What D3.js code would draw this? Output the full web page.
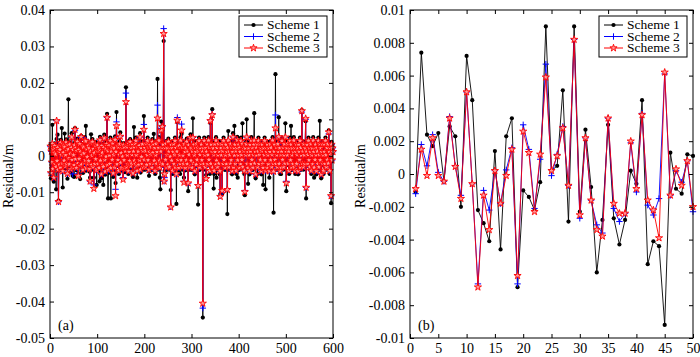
<!DOCTYPE html>
<html>
<head>
<meta charset="utf-8">
<script src="https://cdn.jsdelivr.net/npm/d3@7"></script>
<style>
  body { margin: 0; background: #fff; }
</style>
</head>
<body>
<div id="chart"></div>
<script>
// Panel (a): residuals of epochs 1..600, in millimetres
const resA1 = [
  3.1,-6.2,1.5,-2.4,8.5,-4.1,2.3,-7.1,1.0,3.4,-2.9,0.6,-9.2,4.6,-1.9,5.8,-4.2,-12.3,1.4,-3.0,
  2.0,-3.9,4.4,0.5,7.6,-2.6,-8.7,1.2,3.4,-1.6,6.1,-3.5,0.4,4.5,-2.7,1.7,-6.3,3.5,15.5,-1.0,
  -2.8,3.7,0.8,-4.5,2.7,6.2,-1.4,-5.5,2.1,0.3,-5.8,3.5,7.6,-1.2,2.6,-4.0,1.7,4.7,-2.6,-5.0,
  2.0,-1.0,3.9,-6.4,1.4,5.5,-2.9,0.4,3.2,-4.7,2.8,0.9,-2.3,5.1,-1.5,8.2,-4.1,2.2,-0.4,-2.7,
  3.4,-1.7,2.6,-4.4,-6.0,1.5,5.9,-3.0,0.2,4.6,-3.8,2.3,-6.0,1.0,-2.7,3.8,-1.1,2.9,-8.0,1.6,
  3.5,-2.7,1.7,-4.0,-7.0,5.2,-1.6,0.3,-6.2,3.3,1.1,-2.9,-8.0,2.7,5.8,-1.4,-5.2,2.1,-0.3,3.9,
  11.5,-3.2,-11.7,-4.7,3.4,0.2,-2.7,5.0,-11.7,1.5,2.8,-1.4,4.1,-5.8,0.4,2.6,-3.9,5.3,-7.5,1.4,
  12.0,-2.8,3.3,-1.5,2.9,-5.0,0.4,3.9,6.4,-2.3,1.0,-4.1,2.7,-0.3,-4.0,3.5,-1.5,2.8,-4.5,1.5,
  18.8,-3.8,2.9,0.3,-2.8,-5.0,4.0,1.4,-1.7,4.6,-3.4,2.7,-2.6,0.4,3.8,-5.8,1.5,7.9,-1.6,4.0,
  -2.7,5.0,0.3,-3.5,-6.0,2.8,1.5,-2.9,3.4,-1.5,6.2,-4.6,2.7,-0.4,-2.8,3.9,1.6,-3.8,10.9,-1.4,
  2.7,-3.8,1.6,4.0,-2.9,0.3,5.0,-1.5,2.8,-5.5,1.4,3.5,-2.7,0.4,2.9,-3.9,4.6,1.1,-2.6,6.0,
  -1.6,2.7,-5.0,0.3,4.0,-2.7,1.4,21.1,-3.8,2.7,5.1,-1.6,-6.0,-9.2,1.5,9.4,2.8,7.0,-2.8,3.8,
  31.5,-5.0,-4.2,2.7,-1.4,4.0,-3.9,0.3,2.6,-2.9,4.7,1.5,-3.8,2.8,-0.3,-9.4,3.8,-1.6,2.7,-5.0,
  1.4,3.9,-2.8,0.4,5.0,-3.9,2.7,-13.2,1.5,9.3,-1.4,2.9,-4.0,3.4,0.3,-5.0,5.1,-1.5,6.0,-3.8,
  2.8,0.2,-2.7,-6.0,3.9,1.4,-4.0,2.6,-1.5,4.7,-2.8,1.5,-9.7,3.5,0.4,-3.8,2.7,5.9,-1.6,2.6,
  -3.9,1.5,10.3,-2.6,3.8,0.3,-5.1,2.8,1.4,-2.9,4.0,-1.4,2.7,-13.4,1.6,5.0,-3.9,0.4,2.6,-2.7,
  3.8,-1.5,1.6,-44.4,2.7,-2.8,5.0,0.3,-3.8,2.7,-5.3,1.4,3.9,-2.7,0.3,5.1,-1.4,2.8,-5.0,9.0,
  -2.7,3.8,1.5,12.8,-3.9,2.6,-9.0,-5.0,3.9,1.4,-2.8,5.1,-6.0,2.7,-3.8,0.3,4.0,-2.6,1.5,-5.1,
  -10.5,2.6,0.3,3.9,-10.4,1.6,-2.7,5.0,-1.4,2.8,-3.9,0.3,3.8,-2.8,1.4,-16.0,2.7,6.8,-3.8,1.5,
  0.3,-2.6,3.9,-1.5,2.8,-5.1,1.4,6.2,-3.9,2.7,8.2,3.8,-2.7,1.6,-5.0,2.7,5.2,-6.0,0.3,3.8,
  -3.9,2.7,1.4,-2.8,5.0,0.3,-1.4,8.9,-3.8,2.7,1.6,-5.0,-10.8,2.6,0.3,3.9,10.0,-2.7,1.4,-7.7,
  2.6,0.3,-5.1,3.8,1.5,-2.8,5.1,-1.4,2.7,-3.9,0.4,3.8,11.7,-2.6,1.5,-6.2,2.8,0.2,3.9,-5.0,
  1.5,5.0,-2.7,0.4,3.9,-1.4,2.6,-5.1,1.6,3.8,-2.7,-8.0,2.6,0.3,5.0,-1.5,-9.2,2.7,1.4,-3.9,
  3.8,0.3,-2.8,2.6,-6.0,1.4,3.9,-1.5,2.7,-3.8,0.4,5.1,-2.6,-15.6,1.5,3.8,-1.4,22.4,-2.7,2.8,
  0.3,-3.8,3.9,1.4,10.6,-2.7,2.6,-5.0,0.4,-5.0,1.5,5.0,-1.4,2.8,-3.8,0.3,3.9,-2.6,8.9,1.5,
  -9.7,2.6,0.3,4.0,-2.6,1.5,-5.0,2.7,5.0,-1.5,8.2,-3.9,0.3,2.6,-2.8,1.4,5.1,-3.8,2.7,-5.0,
  1.4,3.9,-2.7,0.4,2.6,-5.1,3.8,1.5,-1.4,5.0,-3.9,2.7,0.2,12.5,-2.6,1.5,-3.8,3.9,0.3,-2.7,
  2.6,9.5,-11.7,1.5,3.8,-2.7,0.4,5.0,-1.5,2.7,-3.8,1.4,3.9,-5.0,0.3,2.6,-2.8,5.1,1.4,-6.0,
  2.7,-1.4,3.8,0.3,-5.1,2.6,1.5,-2.7,5.0,-3.8,0.4,9.6,-1.5,2.6,-6.2,1.4,3.9,-2.6,0.3,-5.0,
  3.9,1.4,-2.7,5.0,0.3,-3.8,2.7,-1.4,3.9,-2.6,7.0,1.5,-5.0,2.7,0.4,-13.0,3.8,-1.5,2.6,1.4
];
const resA2 = [
  2.5,-4.7,1.2,-1.8,3.3,-3.6,1.9,-6,0.8,2.7,-2.3,0.4,-3,9.6,-1.4,2.2,-3.8,-12.6,1.1,-2.4,
  1.7,-3.2,3.6,0.3,3,-2.1,-4.2,0.9,2.8,-1.3,2.4,-2.9,0.2,3.7,-2.2,1.3,-4.9,2.9,1.8,-0.7,
  -2.3,3.1,0.6,-3.7,2.2,5.1,-1.1,-5,1.7,0.2,-2.6,2.9,7,-0.9,2.1,-3.3,1.4,3.9,-2.1,-5,
  1.6,-0.8,3.2,-2.7,1.1,5,-2.4,0.3,2.6,-3.9,2.3,0.7,-1.9,4.2,-1.2,4.5,-3.4,1.8,-0.3,-2.2,
  2.8,-1.4,2.1,-3.6,-7,1.2,3.4,-2.5,0.1,3.8,-3.1,1.9,-8,0.8,-2.2,3.1,-0.9,2.4,-4,1.3,
  2.9,-2.2,1.4,-3.3,2.1,4.3,-1.3,0.2,-5.1,2.7,0.9,-2.4,-3,2.2,4.8,-1.1,-4.3,1.7,-0.2,3.2,
  10.5,-2.6,1.3,-3.9,2.8,0.1,-2.2,4.1,-3.3,1.2,2.3,-1.1,3.4,-4.8,0.3,2.1,-3.2,4.4,-9.2,1.1,
  9.3,-2.3,2.7,-1.2,2.4,-4.1,0.3,3.2,5.3,-1.9,0.8,-3.4,2.2,-0.2,-6,2.9,-1.2,2.3,-3.7,1.2,
  17.2,-3.1,2.4,0.2,-2.3,-4.2,3.3,1.1,-1.4,3.8,-2.8,2.2,-2.1,0.3,3.1,-4.8,1.2,2.4,-1.3,3.3,
  -2.2,4.1,0.2,-2.9,-4.1,2.3,1.2,-2.4,2.8,-1.2,5.1,-3.8,2.2,-0.3,-2.3,3.2,1.3,-3.1,8.6,-1.1,
  2.2,-3.1,1.3,3.3,-2.4,0.2,4.1,-1.2,2.3,-3.9,1.1,2.9,-2.2,0.3,2.4,-3.2,3.8,0.9,-2.1,3.1,
  -1.3,2.2,-4.1,0.2,3.3,-2.2,1.1,13.9,-3.1,2.2,4.2,-1.3,-3.2,-2.1,1.2,7.5,2.3,8,-2.3,3.1,
  34.9,-7,-6,2.2,-1.1,3.3,-3.2,0.2,2.1,-2.4,3.9,1.2,-3.1,2.3,-0.2,-14,3.1,-1.3,2.2,-4.1,
  1.1,3.2,-2.3,0.3,4.1,-3.2,2.2,-5,1.2,10.5,-1.1,2.4,-3.3,2.8,0.2,-2.2,4.2,-1.2,8.7,-3.1,
  2.3,0.1,-2.2,-7,3.2,1.1,-3.3,2.1,-1.2,3.9,-2.3,1.2,-7.5,2.9,0.3,-3.1,2.2,4.9,-1.3,2.1,
  -3.2,1.2,5,-2.1,3.1,0.2,-4.2,2.3,1.1,-2.4,3.3,-1.1,2.2,-8,1.3,4.1,-3.2,0.3,2.1,-2.2,
  3.1,-1.2,1.3,-41.8,2.2,-2.3,4.1,0.2,-3.1,2.2,-6,1.1,3.2,-2.2,0.2,4.2,-1.1,2.3,-4.1,9.8,
  -2.2,3.1,1.2,11.5,-3.2,2.1,0.3,-4.1,3.2,1.1,-2.3,4.2,-1.3,2.2,-3.1,0.2,3.3,-2.1,1.2,-4.2,
  -11,2.1,0.2,3.2,-10,1.3,-2.2,4.1,-1.1,2.3,-3.2,0.2,3.1,-2.3,1.1,-9,2.2,4.2,-3.1,1.2,
  0.2,-2.1,3.2,-1.2,2.3,-4.2,1.1,5.1,-3.2,2.2,0.1,3.1,-2.2,1.3,-4.1,2.2,4.3,-1.2,0.2,3.1,
  -3.2,2.2,1.1,-2.3,4.1,0.2,-1.1,3.3,-3.1,2.2,1.3,-4.1,-9.5,2.1,0.2,3.2,5.1,-2.2,1.1,-3.3,
  2.1,0.2,-4.2,3.1,1.2,-2.3,4.2,-1.1,2.2,-3.2,0.3,3.1,4.2,-2.1,1.2,-5.1,2.3,0.1,3.2,-3.1,
  1.2,4.1,-2.2,0.3,3.2,-1.1,2.1,-4.2,1.3,3.1,-2.2,-3.3,2.1,0.2,4.1,-1.2,-4.1,2.2,1.1,-3.2,
  3.1,0.2,-2.3,2.1,-4.2,1.1,3.2,-1.2,2.2,-3.1,0.3,4.2,-2.1,-4.3,1.2,3.1,-1.1,11.2,-2.2,2.3,
  0.2,-3.1,3.2,1.1,5.2,-2.2,2.1,-4.1,0.3,-3.2,1.2,4.1,-1.1,2.3,-3.1,0.2,3.2,-2.1,5.1,1.2,
  -7,2.1,0.2,3.3,-2.1,1.2,-4.1,2.2,4.1,-1.2,3.1,-3.2,0.2,2.1,-2.3,1.1,4.2,-3.1,2.2,-4.1,
  1.1,3.2,-2.2,0.3,2.1,-4.2,3.1,1.2,-1.1,4.1,-3.2,2.2,0.1,12,-2.1,1.2,-3.1,3.2,0.2,-2.2,
  2.1,10,-8.7,1.2,3.1,-2.2,0.3,4.1,-1.2,2.2,-3.1,1.1,3.2,-4.1,0.2,2.1,-2.3,4.2,1.1,-3.2,
  2.2,-1.1,3.1,0.2,-4.2,2.1,1.2,-2.2,4.1,-3.1,0.3,3.2,-1.2,2.1,-5.1,1.1,3.2,-2.1,0.2,-4.1,
  3.2,1.1,-2.2,4.1,0.2,-3.1,2.2,-1.1,3.2,-2.1,6,1.2,-4.1,2.2,0.3,-11,3.1,-1.2,2.1,1.1
];
const resA3 = [
  2.6,-4.7,1.2,-1.8,3.3,-3.6,1.9,-6,0.8,2.7,-2.3,0.4,-3,9.6,-1.4,2.2,-3.8,-12.6,1.1,-2.4,
  1.7,-3.2,3.6,0.3,3,-2.1,-4.2,0.9,2.8,-1.3,2.4,-2.9,0.2,3.7,-2.2,1.3,-4.9,2.9,1.8,-0.7,
  -2.3,3.1,0.6,-3.7,2.2,5.1,-1.1,-3.2,1.7,0.2,-2.6,2.9,7.2,-0.9,2.1,-3.3,1.4,3.9,-2.1,-5.5,
  1.6,-0.8,3.2,-2.7,1.1,5.2,-2.4,0.3,2.6,-3.9,2.3,0.7,-1.9,4.2,-1.2,4,-3.4,1.8,-0.3,-2.2,
  2.8,-1.4,2.1,-3.6,-7,1.2,3.4,-2.5,0.1,3.8,-3.1,1.9,-9,0.8,-2.2,3.1,-0.9,2.4,-4,1.3,
  2.9,-2.2,1.4,-3.3,2.1,4.3,-1.3,0.2,-5.1,2.7,0.9,-2.4,-3,2.2,4.8,-1.1,-4.3,1.7,-0.2,3.2,
  10.5,-2.6,1.3,-3.9,2.8,0.1,-2.2,4.1,-3.3,1.2,2.3,-1.1,3.4,-4.8,0.3,2.1,-3.2,4.4,-11,1.1,
  8.2,-2.3,2.7,-1.2,2.4,-4.1,0.3,3.2,5.3,-1.9,0.8,-3.4,2.2,-0.2,-6.5,2.9,-1.2,2.3,-3.7,1.2,
  14.8,-3.1,2.4,0.2,-2.3,-4.2,3.3,1.1,-1.4,3.8,-2.8,2.2,-2.1,0.3,3.1,-4.8,1.2,2.4,-1.3,3.3,
  -2.2,4.1,0.2,-2.9,-4.1,2.3,1.2,-2.4,2.8,-1.2,5.1,-3.8,2.2,-0.3,-2.3,3.2,1.3,-3.1,7.2,-1.1,
  2.2,-3.1,1.3,3.3,-2.4,0.2,4.1,-1.2,2.3,-3.9,1.1,2.9,-2.2,0.3,2.4,-3.2,3.8,0.9,-2.1,3.1,
  -1.3,2.2,-4.1,0.2,3.3,-2.2,1.1,10.3,-3.1,2.2,4.2,-1.3,-3.2,-2.1,1.2,7,2.3,8,-2.3,3.1,
  33.5,-7,-5,2.2,-1.1,3.3,-3.2,0.2,2.1,-2.4,3.9,1.2,-3.1,2.3,-0.2,-14.1,3.1,-1.3,2.2,-4.1,
  1.1,3.2,-2.3,0.3,4.1,-3.2,2.2,-5,1.2,9.7,-1.1,2.4,-3.3,2.8,0.2,-2.2,4.2,-1.2,7,-3.1,
  2.3,0.1,-2.2,-7.3,3.2,1.1,-3.3,2.1,-1.2,3.9,-2.3,1.2,-7.5,2.9,0.3,-3.1,2.2,4.9,-1.3,2.1,
  -3.2,1.2,5,-2.1,3.1,0.2,-4.2,2.3,1.1,-2.4,3.3,-1.1,2.2,-8.2,1.3,4.1,-3.2,0.3,2.1,-2.2,
  3.1,-1.2,1.3,-40.5,2.2,-2.3,4.1,0.2,-3.1,2.2,-6.3,1.1,3.2,-2.2,0.2,4.2,-1.1,2.3,-4.1,9.6,
  -2.2,3.1,1.2,11.2,-3.2,2.1,0.3,-4.1,3.2,1.1,-2.3,4.2,-1.3,2.2,-3.1,0.2,3.3,-2.1,1.2,-4.2,
  -11.2,2.1,0.2,3.2,-9.6,1.3,-2.2,4.1,-1.1,2.3,-3.2,0.2,3.1,-2.3,1.1,-9.3,2.2,4.2,-3.1,1.2,
  0.2,-2.1,3.2,-1.2,2.3,-4.2,1.1,5.1,-3.2,2.2,0.1,3.1,-2.2,1.3,-4.1,2.2,4.3,-1.2,0.2,3.1,
  -3.2,2.2,1.1,-2.3,4.1,0.2,-1.1,3.3,-3.1,2.2,1.3,-4.1,-9.9,2.1,0.2,3.2,5.1,-2.2,1.1,-3.3,
  2.1,0.2,-4.2,3.1,1.2,-2.3,4.2,-1.1,2.2,-3.2,0.3,3.1,4.2,-2.1,1.2,-5.1,2.3,0.1,3.2,-3.1,
  1.2,4.1,-2.2,0.3,3.2,-1.1,2.1,-4.2,1.3,3.1,-2.2,-3.3,2.1,0.2,4.1,-1.2,-4.1,2.2,1.1,-3.2,
  3.1,0.2,-2.3,2.1,-4.2,1.1,3.2,-1.2,2.2,-3.1,0.3,4.2,-2.1,-4.3,1.2,3.1,-1.1,7.6,-2.2,2.3,
  0.2,-3.1,3.2,1.1,5.2,-2.2,2.1,-4.1,0.3,-3.2,1.2,4.1,-1.1,2.3,-3.1,0.2,3.2,-2.1,5.1,1.2,
  -7.5,2.1,0.2,3.3,-2.1,1.2,-4.1,2.2,4.1,-1.2,3.1,-3.2,0.2,2.1,-2.3,1.1,4.2,-3.1,2.2,-4.1,
  1.1,3.2,-2.2,0.3,2.1,-4.2,3.1,1.2,-1.1,4.1,-3.2,2.2,0.1,12.3,-2.1,1.2,-3.1,3.2,0.2,-2.2,
  2.1,10.2,-8.7,1.2,3.1,-2.2,0.3,4.1,-1.2,2.2,-3.1,1.1,3.2,-4.1,0.2,2.1,-2.3,4.2,1.1,-3.2,
  2.2,-1.1,3.1,0.2,-4.2,2.1,1.2,-2.2,4.1,-3.1,0.3,3.2,-1.2,2.1,-5.1,1.1,3.2,-2.1,0.2,-4.1,
  3.2,1.1,-2.2,4.1,0.2,-3.1,2.2,-1.1,3.2,-2.1,6.5,1.2,-4.1,2.2,0.3,-11,3.1,-1.2,2.1,1.1
];

// Panel (b): residuals of epochs 1..50, in metres
const resB1 = [-0.0011,0.0074,0.0024,0.0017,0.0025,-0.00045,0.0029,0.0023,-0.002,0.0072,
  0.0045,-0.0022,-0.003,-0.0041,0.0014,-0.0046,0.0023,0.0034,-0.0069,-0.001,
  -0.0014,-0.0022,-0.0005,0.009,0.0002,0.0005,0.0051,-0.0029,0.009,-0.0023,
  0.0027,-0.0008,-0.006,-0.0028,0.003,-0.0027,-0.0043,-0.0028,0.0002,-0.0006,
  0.0045,-0.0055,-0.0041,-0.0044,-0.0092,0.0013,-0.0009,-0.0012,0.0012,0.0011];
const resB2 = [-0.0012,0.0018,0.0005,0.0024,0.0001,-0.00045,0.0035,0.0005,-0.0013,0.005,
  -0.0006,-0.0067,-0.001,-0.0022,0.0002,-0.0018,0.00025,0.0016,-0.0067,0.003,
  0.0015,-0.0021,0.0009,0.0067,-0.0001,0.0012,0.0029,-0.0007,0.0082,-0.0027,
  0.0022,-0.0016,-0.0031,-0.0036,0.0034,-0.0021,-0.0029,-0.0024,0.0019,-0.0011,
  0.0037,-0.0019,-0.0025,-0.0015,0.0061,-0.0013,0.0002,-0.0005,0.0008,-0.0023];
const resB3 = [-0.0009,0.0015,-0.0001,0.0022,-0.0001,-0.00045,0.0034,0.00045,-0.0015,0.005,
  -0.0006,-0.0069,-0.0013,-0.0034,0.0002,-0.0018,-0.0001,0.0015,-0.0062,0.0026,
  0.0013,-0.0023,0.0012,0.0059,0.0002,0.0011,0.0028,-0.0007,0.0082,-0.0025,
  0.0022,-0.0016,-0.0034,-0.0038,0.0034,-0.0018,-0.0024,-0.0024,0.002,-0.0009,
  0.0036,-0.0016,-0.0022,-0.0039,0.0062,-0.0013,0.0003,-0.0007,0.0008,-0.002];

const schemeNames = ["Scheme 1", "Scheme 2", "Scheme 3"];
const ticksAX = [0, 100, 200, 300, 400, 500, 600];
const ticksAY = [-0.05, -0.04, -0.03, -0.02, -0.01, 0, 0.01, 0.02, 0.03, 0.04];
const ticksBX = [0, 5, 10, 15, 20, 25, 30, 35, 40, 45, 50];
const ticksBY = [-0.01, -0.008, -0.006, -0.004, -0.002, 0, 0.002, 0.004, 0.006, 0.008, 0.01];

const colors = ["#000000", "#0000ff", "#ff0000"];
const fontFam = '"Liberation Serif", "Times New Roman", Times, serif';

const svg = d3.select("#chart").append("svg")
    .attr("width", 700)
    .attr("height", 357)
    .style("display", "block")
    .attr("font-family", fontFam);

const fmt = d => { const v = +d.toFixed(4); return v === 0 ? "0" : String(v); };

// marker drawing per scheme
function drawMarker(g, i) {
    if (i === 0) {
        g.append("circle").attr("r", 2.1).attr("fill", colors[0]);
    } else if (i === 1) {
        g.append("path").attr("d", "M-3.2,0H3.2M0,-3.2V3.2")
            .attr("stroke", colors[1]).attr("stroke-width", 1).attr("fill", "none");
    } else {
        g.append("path").attr("d", d3.symbol(d3.symbolStar, 16)())
            .attr("stroke", colors[2]).attr("stroke-width", 0.9).attr("fill", "#ff9a9a");
    }
}

function drawPanel(cfg) {
    const top = 10, bottom = 338;
    const x = d3.scaleLinear().domain(cfg.xDomain).range([cfg.left, cfg.right]);
    const y = d3.scaleLinear().domain(cfg.yDomain).range([bottom, top]);

    const g = svg.append("g");

    // series
    cfg.series.forEach((arr, i) => {
        const pts = arr.map((v, k) => [k + 1, v * cfg.unit]);
        g.append("path")
            .datum(pts)
            .attr("fill", "none")
            .attr("stroke", colors[i])
            .attr("stroke-width", 0.9)
            .attr("d", d3.line().x(d => x(d[0])).y(d => y(d[1])));
        g.append("g").selectAll("g")
            .data(pts)
            .join("g")
            .attr("transform", d => `translate(${x(d[0])},${y(d[1])})`)
            .each(function () { drawMarker(d3.select(this), i); });
    });

    // axes, ticks pointing inward
    const axB = g.append("g").attr("transform", `translate(0,${bottom})`)
        .call(d3.axisBottom(x).tickValues(cfg.xTicks).tickSize(-4).tickPadding(5).tickFormat(d3.format("d")));
    const axL = g.append("g").attr("transform", `translate(${cfg.left},0)`)
        .call(d3.axisLeft(y).tickValues(cfg.yTicks).tickSize(-4).tickPadding(5).tickFormat(fmt));
    const axT = g.append("g").attr("transform", `translate(0,${top})`)
        .call(d3.axisTop(x).tickValues(cfg.xTicks).tickSize(-4).tickFormat(""));
    const axR = g.append("g").attr("transform", `translate(${cfg.right},0)`)
        .call(d3.axisRight(y).tickValues(cfg.yTicks).tickSize(-4).tickFormat(""));
    [axB, axL, axT, axR].forEach(a => {
        a.select(".domain").remove();
        a.attr("font-family", fontFam).attr("font-size", 14);
        a.selectAll("line").attr("stroke", "#000");
        a.selectAll("text").attr("fill", "#000");
    });

    g.append("rect")
        .attr("x", cfg.left).attr("y", top)
        .attr("width", cfg.right - cfg.left).attr("height", bottom - top)
        .attr("fill", "none").attr("stroke", "#000").attr("stroke-width", 1);

    // y label
    g.append("text")
        .attr("transform", `translate(${cfg.labelX},176) rotate(-90)`)
        .attr("text-anchor", "middle")
        .attr("font-size", 14)
        .text("Residual/m");

    // panel tag
    g.append("text")
        .attr("x", cfg.left + 8).attr("y", 330)
        .attr("font-size", 14)
        .text(cfg.tag);

    // legend
    const lg = g.append("g").attr("transform", `translate(${cfg.legendX},16)`);
    lg.append("rect").attr("width", 88).attr("height", 41)
        .attr("fill", "#fff").attr("stroke", "#000").attr("stroke-width", 1);
    schemeNames.forEach((name, i) => {
        const ly = 9 + i * 11.5;
        lg.append("line").attr("x1", 5).attr("x2", 24).attr("y1", ly).attr("y2", ly)
            .attr("stroke", colors[i]).attr("stroke-width", 1);
        drawMarker(lg.append("g").attr("transform", `translate(14.5,${ly})`), i);
        lg.append("text").attr("x", 28).attr("y", ly + 4)
            .attr("font-size", 13.5).text(name);
    });
}

drawPanel({
    left: 50, right: 333,
    xDomain: [0, 600], yDomain: [-0.05, 0.04],
    xTicks: ticksAX, yTicks: ticksAY,
    series: [resA1, resA2, resA3], unit: 0.001,
    labelX: 13, tag: "(a)", legendX: 239
});

drawPanel({
    left: 410, right: 693,
    xDomain: [0, 50], yDomain: [-0.01, 0.01],
    xTicks: ticksBX, yTicks: ticksBY,
    series: [resB1, resB2, resB3], unit: 1,
    labelX: 365, tag: "(b)", legendX: 599
});
</script>
</body>
</html>
